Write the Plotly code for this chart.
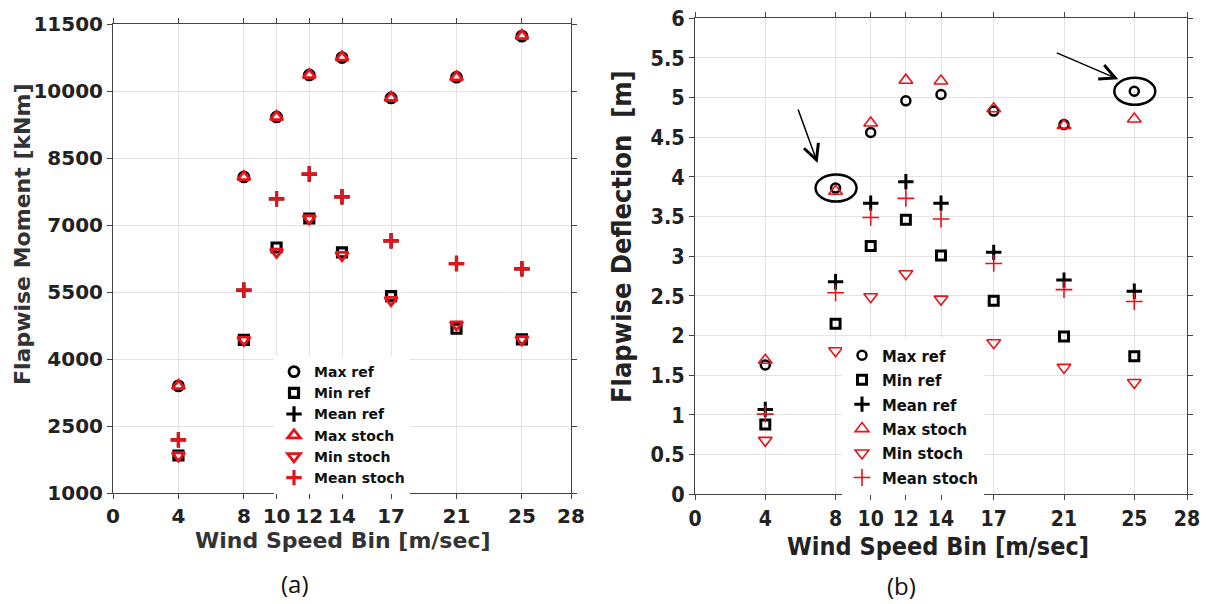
import plotly.graph_objects as go

# Wind speed bins [m/sec]
wind_bins = [4, 8, 10, 12, 14, 17, 21, 25]
x_ticks = [0, 4, 8, 10, 12, 14, 17, 21, 25, 28]

# (a) Flapwise moment [kNm]
moment_max_ref = [3400, 8080, 9425, 10365, 10755, 9850, 10315, 11235]
moment_min_ref = [1840, 4430, 6500, 7150, 6390, 5410, 4680, 4440]
moment_mean_ref = [2190, 5545, 7590, 8145, 7635, 6650, 6140, 6020]
moment_max_stoch = [3400, 8080, 9425, 10365, 10760, 9855, 10315, 11240]
moment_min_stoch = [1840, 4430, 6400, 7150, 6330, 5320, 4770, 4440]
moment_mean_stoch = [2190, 5545, 7590, 8145, 7635, 6650, 6140, 6020]
moment_ticks = [1000, 2500, 4000, 5500, 7000, 8500, 10000, 11500]

# (b) Flapwise deflection [m]
defl_max_ref = [1.63, 3.86, 4.56, 4.96, 5.04, 4.83, 4.66, 5.08]
defl_min_ref = [0.88, 2.15, 3.13, 3.46, 3.01, 2.44, 1.99, 1.74]
defl_mean_ref = [1.07, 2.68, 3.67, 3.94, 3.67, 3.05, 2.70, 2.56]
defl_max_stoch = [1.69, 3.82, 4.68, 5.22, 5.21, 4.86, 4.65, 4.73]
defl_min_stoch = [0.68, 1.81, 2.49, 2.78, 2.46, 1.91, 1.60, 1.41]
defl_mean_stoch = [1.01, 2.54, 3.49, 3.73, 3.47, 2.91, 2.58, 2.43]

# Points highlighted with an ellipse and arrow in panel (b)
highlight_bins = [8, 25]

names = ["Max ref", "Min ref", "Mean ref", "Max stoch", "Min stoch", "Mean stoch"]
symbols = ["circle-open", "square-open", "cross-thin-open",
           "triangle-up-open", "triangle-down-open", "cross-thin-open"]
colors = ["black", "black", "black", "#e8121a", "#e8121a", "#e8121a"]

W, H = 1209, 604
FONT_A = "DejaVu Sans"
FONT_B = "DejaVu Sans Condensed, DejaVu Sans"

fig = go.Figure()

# marker size / stroke width for each panel
style_a = [(10, 2.8), (9, 3.2), (11, 3.2), (11, 2.8), (11, 2.8), (11, 3.2)]
style_b = [(9, 2.5), (9, 3.0), (11, 3.0), (12, 1.6), (12, 1.6), (12, 1.6)]

series_a = [moment_max_ref, moment_min_ref, moment_mean_ref,
            moment_max_stoch, moment_min_stoch, moment_mean_stoch]
series_b = [defl_max_ref, defl_min_ref, defl_mean_ref,
            defl_max_stoch, defl_min_stoch, defl_mean_stoch]

for i, vals in enumerate(series_a):
    size, lw = style_a[i]
    fig.add_trace(go.Scatter(
        x=wind_bins, y=vals, mode="markers", name=names[i],
        marker=dict(symbol=symbols[i], size=size, color=colors[i],
                    line=dict(color=colors[i], width=lw)),
        xaxis="x", yaxis="y", legend="legend"))

for i, vals in enumerate(series_b):
    size, lw = style_b[i]
    fig.add_trace(go.Scatter(
        x=wind_bins, y=vals, mode="markers", name=names[i],
        marker=dict(symbol=symbols[i], size=size, color=colors[i],
                    line=dict(color=colors[i], width=lw)),
        xaxis="x2", yaxis="y2", legend="legend2"))


def px_x(p):
    return p / W


def px_y(p):
    return 1 - p / H


axis_common = dict(showgrid=True, gridcolor="#e3e3e3", gridwidth=1,
                   zeroline=False, showline=True, linecolor="#444",
                   linewidth=1, mirror="ticks", ticks="outside",
                   ticklen=5, tickcolor="#444", automargin=False)

fig.update_layout(
    width=W, height=H,
    margin=dict(l=0, r=0, t=0, b=0, autoexpand=False),
    paper_bgcolor="white", plot_bgcolor="white",
    showlegend=True,
    xaxis=dict(domain=[px_x(113), px_x(571)], range=[0, 28],
               tickvals=x_ticks, anchor="y",
               tickfont=dict(family=FONT_A, size=20, color="#222", weight="bold"),
               **axis_common),
    yaxis=dict(domain=[px_y(493), px_y(24.3)], range=[1000, 11500],
               tickvals=moment_ticks, tickformat="d", anchor="x",
               tickfont=dict(family=FONT_A, size=20, color="#222", weight="bold"),
               **axis_common),
    xaxis2=dict(domain=[px_x(695), px_x(1187)], range=[0, 28],
                tickvals=x_ticks, anchor="y2",
                tickfont=dict(family=FONT_B, size=21, color="#222", weight="bold"),
                **axis_common),
    yaxis2=dict(domain=[px_y(494.3), px_y(18.3)], range=[0, 6],
                dtick=0.5, anchor="x2",
                tickfont=dict(family=FONT_B, size=21.5, color="#222", weight="bold"),
                **axis_common),
    legend=dict(x=px_x(274), y=px_y(356), xanchor="left", yanchor="top",
                bgcolor="white", borderwidth=0, tracegroupgap=0,
                font=dict(family=FONT_A, size=14, color="#111", weight="bold")),
    legend2=dict(x=px_x(842), y=px_y(338), xanchor="left", yanchor="top",
                 bgcolor="white", borderwidth=0, tracegroupgap=0,
                 font=dict(family=FONT_B, size=16.5, color="#111", weight="bold")),
)

# Axis titles and panel captions
titles = [
    dict(text="Flapwise Moment [kNm]", x=px_x(22), y=px_y(235), textangle=-90,
         font=dict(family=FONT_A, size=22, color="#333", weight="bold")),
    dict(text="Wind Speed Bin [m/sec]", x=px_x(342), y=px_y(540),
         font=dict(family=FONT_A, size=22, color="#333", weight="bold")),
    dict(text="Flapwise Deflection\u00a0 [m]", x=px_x(622), y=px_y(237), textangle=-90,
         font=dict(family=FONT_B, size=27, color="#222", weight="bold")),
    dict(text="Wind Speed Bin [m/sec]", x=px_x(938), y=px_y(546),
         font=dict(family=FONT_B, size=25, color="#222", weight="bold")),
    dict(text="(a)", x=px_x(295), y=px_y(583),
         font=dict(family="Open Sans", size=24, color="#111")),
    dict(text="(b)", x=px_x(901), y=px_y(585),
         font=dict(family="Open Sans", size=24, color="#111")),
]
for t in titles:
    fig.add_annotation(xref="paper", yref="paper", showarrow=False,
                       xanchor="center", yanchor="middle", **t)

# Ellipses and arrows pointing at the highlighted maxima
arrow_geom = {8: dict(xshift=-18, yshift=25, ax=-20, ay=-55),
              25: dict(xshift=-16, yshift=12, ax=-63, ay=-27)}
for b in highlight_bins:
    yv = defl_max_ref[wind_bins.index(b)]
    fig.add_shape(type="circle", xref="x2", yref="y2",
                  xsizemode="pixel", ysizemode="pixel",
                  xanchor=b, yanchor=yv, x0=-20, x1=21, y0=-13.5, y1=13.5,
                  line=dict(color="black", width=2.5))
    g = arrow_geom[b]
    fig.add_annotation(xref="x2", yref="y2", x=b, y=yv, text="",
                       showarrow=True, arrowhead=5, arrowsize=2,
                       arrowwidth=1.5, arrowcolor="black", **g)

fig.write_html("out.html")
